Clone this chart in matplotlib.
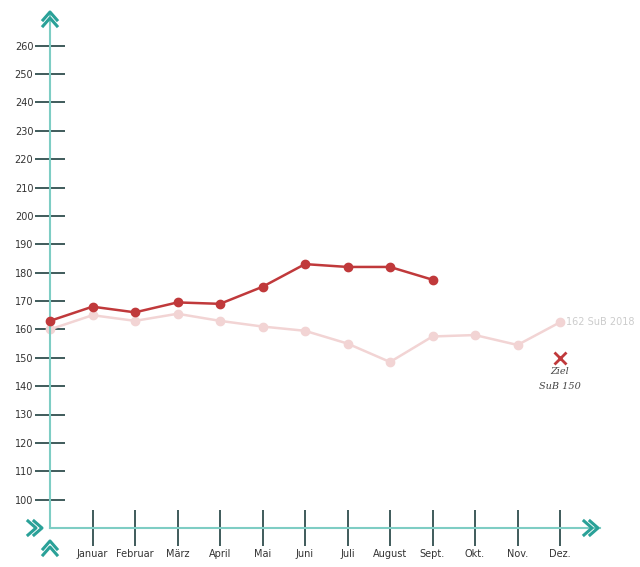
import matplotlib.pyplot as plt
import numpy as np

# ── Data ─────────────────────────────────────────────
months = ["Januar", "Februar", "März", "April", "Mai", "Juni",
          "Juli", "August", "Sept.", "Okt.", "Nov.", "Dez."]
x_2019 = list(range(0, 10))
val_2019 = [163, 168, 166, 169.5, 169, 175, 183, 182, 182, 177.5]
x_2018 = list(range(0, 13))
val_2018 = [160, 165, 163, 165.5, 163, 161, 159.5, 155, 148.5, 157.5, 158, 154.5, 162.5]
goal_x, goal_y = 12, 150
y_ticks = list(range(100, 261, 10))

W, H = 640, 567
fig = plt.figure(figsize=(W / 100, H / 100), dpi=100)
ax = fig.add_axes([50 / W, (H - 528) / H, 550 / W, 513 / H])
ax.set_xlim(0, 550 / 42.5)
ax.set_ylim(90, 90 + 513 / 2.8375)

for s in ["top", "right"]:
    ax.spines[s].set_visible(False)
for s in ["left", "bottom"]:
    ax.spines[s].set_color("#7ecdc4")
    ax.spines[s].set_linewidth(1.5)

ax.plot(x_2018, val_2018, color="#f2d4d4", lw=1.8, marker="o", ms=6, zorder=2, clip_on=False)
ax.plot(x_2019, val_2019, color="#c0393b", lw=1.8, marker="o", ms=6, zorder=3, clip_on=False)
ax.text(x_2018[-1] + 0.15, val_2018[-1], "162 SuB 2018", color="#cccccc",
        fontsize=7, va="center", ha="left")
ax.plot(goal_x, goal_y, marker="x", color="#c0393b", ms=9, mew=2)
ax.text(goal_x, goal_y - 7.5, "Ziel\nSuB 150", color="#444444", fontsize=7,
        style="italic", family="serif", ha="center", va="center", linespacing=1.8)

ax.set_yticks(y_ticks)
ax.set_yticklabels([str(v) for v in y_ticks], fontsize=7, color="#333333")
ax.tick_params(axis="y", direction="inout", length=22, width=1.2, color="#1f3f3f", pad=1)
ax.set_xticks(range(1, 13))
ax.set_xticklabels(months, fontsize=7, color="#333333")
ax.tick_params(axis="x", direction="inout", length=26, width=1.2, color="#1f3f3f", pad=2)

# chevron arrows on axis ends (pixel coords from top-left)
teal = "#2aa198"
def chevron(px, py, direction):
    for off in (0, 6):
        if direction == "up":
            xs, ys = [px - 7, px, px + 7], [py + 8 + off, py + off, py + 8 + off]
        else:
            xs, ys = [px - 8 - off, px - off, px - 8 - off], [py - 7, py, py + 7]
        fig.add_artist(plt.Line2D(np.array(xs) / W, 1 - np.array(ys) / H,
                                  color=teal, lw=2.2))
chevron(50, 12, "up")
chevron(50, 541, "up")
chevron(598, 528, "right")
chevron(42, 528, "right")

fig.savefig("out.png", dpi=100)
